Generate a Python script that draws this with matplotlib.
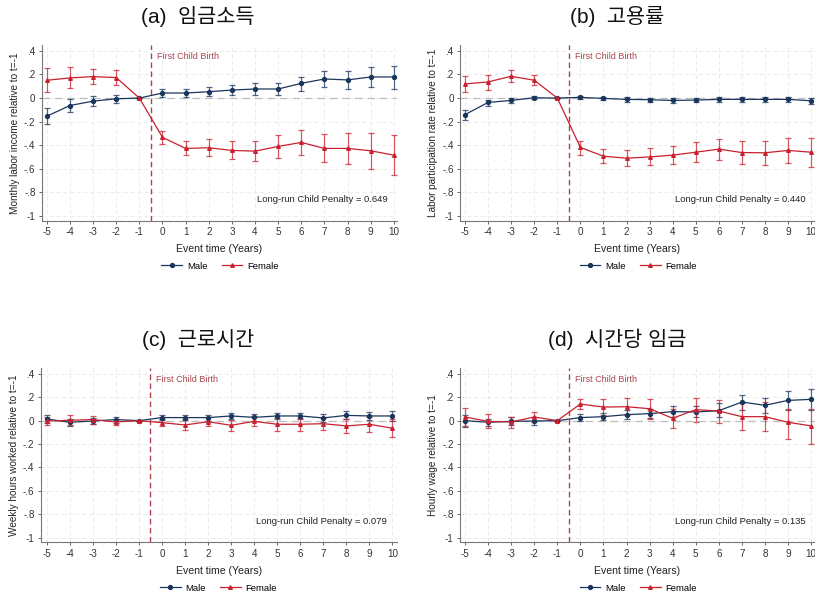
import matplotlib
matplotlib.use('Agg')
import matplotlib.pyplot as plt
from matplotlib.lines import Line2D

plt.rcParams['font.family'] = ['Liberation Sans', 'Noto Sans CJK KR', 'DejaVu Sans']

years = list(range(-5, 11))
ytick_vals = [0.4, 0.2, 0, -0.2, -0.4, -0.6, -0.8, -1]
ytick_labels = ['.4', '.2', '0', '-.2', '-.4', '-.6', '-.8', '-1']

# (a) 임금소득
inc_m = [-0.154, -0.063, -0.026, -0.006, 0, 0.043, 0.043, 0.054, 0.068, 0.077, 0.077, 0.125, 0.162, 0.154, 0.179, 0.179]
inc_m_lo = [-0.222, -0.12, -0.068, -0.04, 0, 0.011, 0.011, 0.014, 0.023, 0.028, 0.023, 0.06, 0.094, 0.077, 0.094, 0.077]
inc_m_hi = [-0.085, -0.01, 0.017, 0.026, 0, 0.074, 0.074, 0.091, 0.111, 0.128, 0.128, 0.182, 0.228, 0.228, 0.265, 0.276]
inc_f = [0.151, 0.171, 0.182, 0.174, 0, -0.333, -0.427, -0.421, -0.444, -0.45, -0.41, -0.376, -0.427, -0.427, -0.447, -0.484]
inc_f_lo = [0.051, 0.083, 0.119, 0.111, 0, -0.393, -0.486, -0.489, -0.518, -0.535, -0.504, -0.48, -0.546, -0.563, -0.603, -0.649]
inc_f_hi = [0.256, 0.262, 0.247, 0.236, 0, -0.276, -0.367, -0.35, -0.367, -0.367, -0.316, -0.267, -0.307, -0.299, -0.293, -0.316]

# (b) 고용률
emp_m = [-0.14, -0.037, -0.02, 0.003, 0, 0.006, -0.003, -0.011, -0.014, -0.02, -0.017, -0.011, -0.011, -0.011, -0.011, -0.023]
emp_m_lo = [-0.182, -0.063, -0.043, -0.011, 0, -0.009, -0.017, -0.031, -0.034, -0.04, -0.037, -0.034, -0.034, -0.034, -0.034, -0.046]
emp_m_hi = [-0.103, -0.017, 0.0, 0.017, 0, 0.017, 0.011, 0.006, 0.003, 0.0, 0.003, 0.009, 0.009, 0.009, 0.009, 0.0]
emp_f = [0.12, 0.137, 0.185, 0.151, 0, -0.419, -0.493, -0.51, -0.499, -0.484, -0.459, -0.433, -0.462, -0.464, -0.444, -0.459]
emp_f_lo = [0.054, 0.071, 0.137, 0.108, 0, -0.479, -0.553, -0.573, -0.567, -0.556, -0.541, -0.524, -0.561, -0.57, -0.553, -0.581]
emp_f_hi = [0.185, 0.197, 0.234, 0.197, 0, -0.365, -0.433, -0.444, -0.427, -0.41, -0.376, -0.348, -0.365, -0.365, -0.339, -0.336]

# (c) 근로시간
hrs_m = [0.014, -0.014, -0.003, 0.009, 0, 0.026, 0.026, 0.026, 0.04, 0.028, 0.04, 0.04, 0.023, 0.045, 0.04, 0.04]
hrs_m_lo = [-0.02, -0.045, -0.026, -0.017, 0, 0.003, 0.003, 0.0, 0.011, 0.0, 0.011, 0.011, -0.011, 0.011, 0.003, 0.0]
hrs_m_hi = [0.048, 0.017, 0.023, 0.031, 0, 0.048, 0.048, 0.048, 0.068, 0.054, 0.068, 0.068, 0.06, 0.082, 0.077, 0.082]
hrs_f = [-0.003, 0.003, 0.009, -0.011, 0, -0.017, -0.037, -0.009, -0.04, -0.006, -0.031, -0.031, -0.026, -0.045, -0.031, -0.065]
hrs_f_lo = [-0.037, -0.04, -0.026, -0.04, 0, -0.048, -0.077, -0.048, -0.088, -0.048, -0.088, -0.088, -0.08, -0.105, -0.094, -0.139]
hrs_f_hi = [0.034, 0.045, 0.037, 0.017, 0, 0.017, 0.003, 0.031, 0.009, 0.04, 0.02, 0.023, 0.023, 0.017, 0.034, 0.011]

# (d) 시간당 임금
wage_m = [0.0, -0.014, -0.006, -0.003, 0, 0.026, 0.034, 0.051, 0.06, 0.077, 0.074, 0.085, 0.159, 0.131, 0.173, 0.182]
wage_m_lo = [-0.051, -0.043, -0.037, -0.034, 0, 0.0, 0.003, 0.017, 0.023, 0.028, 0.028, 0.028, 0.094, 0.065, 0.094, 0.094]
wage_m_hi = [0.045, 0.017, 0.028, 0.028, 0, 0.054, 0.068, 0.088, 0.097, 0.125, 0.122, 0.148, 0.222, 0.193, 0.253, 0.27]
wage_f = [0.031, -0.006, -0.011, 0.031, 0, 0.142, 0.116, 0.119, 0.102, 0.02, 0.094, 0.082, 0.034, 0.034, -0.014, -0.045]
wage_f_lo = [-0.048, -0.065, -0.065, -0.009, 0, 0.097, 0.045, 0.045, 0.014, -0.063, -0.009, -0.02, -0.082, -0.085, -0.159, -0.199]
wage_f_hi = [0.111, 0.054, 0.034, 0.074, 0, 0.188, 0.188, 0.193, 0.188, 0.097, 0.193, 0.179, 0.153, 0.159, 0.097, 0.102]

titles = ['(a)  임금소득', '(b)  고용률', '(c)  근로시간', '(d)  시간당 임금']
ylabels = ['Monthly labor income relative to t=-1', 'Labor participation rate relative to t=-1',
           'Weekly hours worked relative to t=-1', 'Hourly wage relative to t=-1']
penalties = ['0.649', '0.440', '0.079', '0.135']

navy = '#1a365d'
red = '#c8202f'
vline_col = '#a8454f'

panels = [
    (inc_m, inc_m_lo, inc_m_hi, inc_f, inc_f_lo, inc_f_hi),
    (emp_m, emp_m_lo, emp_m_hi, emp_f, emp_f_lo, emp_f_hi),
    (hrs_m, hrs_m_lo, hrs_m_hi, hrs_f, hrs_f_lo, hrs_f_hi),
    (wage_m, wage_m_lo, wage_m_hi, wage_f, wage_f_lo, wage_f_hi),
]

# axes boxes [left, bottom, width, height] and x-limits
boxes = [
    [0.0512, 0.6303, 0.4360, 0.2943],
    [0.5644, 0.6303, 0.4356, 0.2943],
    [0.0500, 0.0916, 0.4372, 0.2920],
    [0.5644, 0.0916, 0.4356, 0.2920],
]
xlims = [(-5.22, 10.14), (-5.22, 10.17), (-5.26, 10.2), (-5.22, 10.17)]
title_pos = [(0.243, 0.972), (0.757, 0.972), (0.243, 0.432), (0.757, 0.432)]
leg_pos = [(0.27, 0.554), (0.783, 0.554), (0.268, 0.015), (0.783, 0.015)]

fig = plt.figure(figsize=(8.15, 5.97), dpi=100)

for i in range(4):
    m, mlo, mhi, f, flo, fhi = panels[i]
    ax = fig.add_axes(boxes[i])

    for t in years:
        ax.axvline(t, color='#ebebeb', lw=0.7, ls=(0, (4, 3)), zorder=0)
    for v in ytick_vals:
        ax.axhline(v, color='#ebebeb', lw=0.7, ls=(0, (4, 3)), zorder=0)
    ax.axhline(0, color='#bdbdbd', lw=0.9, ls=(0, (6, 4)), zorder=1)
    ax.axvline(-0.5, color=vline_col, lw=1.0, ls=(0, (4, 2.5)), zorder=1)

    m_err = [[m[k] - mlo[k] for k in range(len(m))], [mhi[k] - m[k] for k in range(len(m))]]
    f_err = [[f[k] - flo[k] for k in range(len(f))], [fhi[k] - f[k] for k in range(len(f))]]
    ax.errorbar(years, m, yerr=m_err, fmt='none', ecolor=navy, alpha=0.75,
                elinewidth=0.9, capsize=2.2, capthick=0.9, zorder=2)
    ax.errorbar(years, f, yerr=f_err, fmt='none', ecolor=red, alpha=0.75,
                elinewidth=0.9, capsize=2.2, capthick=0.9, zorder=2)
    ax.plot(years, m, color=navy, lw=0.9, marker='o', ms=2.8, zorder=3)
    ax.plot(years, f, color=red, lw=0.9, marker='^', ms=2.6, zorder=3)

    ax.text(-0.25, 0.35, 'First Child Birth', color=vline_col, fontsize=6.5, va='center', ha='left')
    ax.text(9.75, -0.86, 'Long-run Child Penalty = ' + penalties[i], fontsize=6.8,
            va='center', ha='right', color='#222222')

    ax.set_xlim(xlims[i])
    ax.set_ylim(-1.04, 0.45)
    ax.set_xticks(years)
    ax.set_xticklabels([str(t) for t in years])
    ax.set_yticks(ytick_vals)
    ax.set_yticklabels(ytick_labels)
    ax.tick_params(labelsize=7.1, length=2.5, width=0.7, color='#666666', labelcolor='#333333', pad=2)
    ax.set_xlabel('Event time (Years)', fontsize=7.6, color='#222222', labelpad=5)
    ax.set_ylabel(ylabels[i], fontsize=7.2, color='#222222', labelpad=3)
    for s in ['top', 'right']:
        ax.spines[s].set_visible(False)
    for s in ['left', 'bottom']:
        ax.spines[s].set_color('#777777')
        ax.spines[s].set_linewidth(0.8)

    fig.text(title_pos[i][0], title_pos[i][1], titles[i], fontsize=15, ha='center', va='center',
             family=['Liberation Sans', 'Noto Sans CJK KR'], color='#111111')

    handles = [Line2D([0], [0], color=navy, lw=0.9, marker='o', ms=2.8),
               Line2D([0], [0], color=red, lw=0.9, marker='^', ms=2.6)]
    fig.legend(handles, ['Male', 'Female'], loc='center', bbox_to_anchor=leg_pos[i], ncol=2,
               frameon=False, fontsize=6.8, handlelength=2.2, columnspacing=1.5, handletextpad=0.5)

fig.savefig('out.png', dpi=100)
